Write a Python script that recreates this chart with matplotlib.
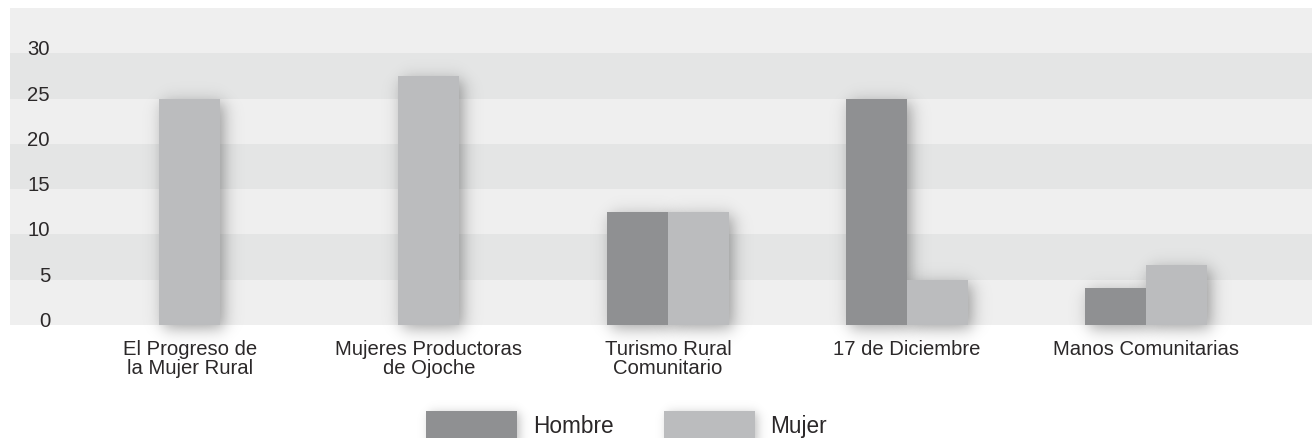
import numpy as np
import matplotlib
matplotlib.use("Agg")
import matplotlib.pyplot as plt
import matplotlib.transforms as mtrans
from matplotlib.patches import Rectangle

plt.rcParams['font.family'] = ['Liberation Sans', 'DejaVu Sans']

categories = ["El Progreso de\nla Mujer Rural", "Mujeres Productoras\nde Ojoche",
              "Turismo Rural\nComunitario", "17 de Diciembre", "Manos Comunitarias"]
series_names = ["Hombre", "Mujer"]
hombre = [0, 0, 12.5, 25, 4.1]
mujer = [25, 27.5, 12.5, 5, 6.6]
yticks = [0, 5, 10, 15, 20, 25, 30]

c_h = "#8f9092"
c_m = "#bbbcbe"
band_light = "#efefef"
band_dark = "#e4e5e5"
txt = "#2b2829"

W, H = 1312, 439
fig = plt.figure(figsize=(W / 100, H / 100), dpi=100)
ax = fig.add_axes([10 / W, (H - 326) / H, (W - 10) / W, (326 - 9) / H])
XL = (-0.753, 4.695)
YL = (0, 35)
ax.set_xlim(*XL)
ax.set_ylim(*YL)
ax.axis("off")

# background bands
for i, lo in enumerate(range(0, 35, 5)):
    ax.axhspan(lo, lo + 5, color=band_light if i % 2 == 0 else band_dark, zorder=0, lw=0)

fig.canvas.draw()
to_pix = ax.transData
to_data = ax.transData.inverted()


def sig(v, s):
    return 1.0 / (1.0 + np.exp(-v / s))


def shadow(px0, py0, px1, py1, dx=4, dy=-4, s=4.8, a=0.36, pad=34):
    gx = np.arange(px0 - pad, px1 + pad + 1)
    gy = np.arange(py0 - pad, py1 + pad + 1)
    X, Y = np.meshgrid(gx, gy)
    fx = sig(X - (px0 + dx), s) * sig((px1 + dx) - X, s)
    fy = sig(Y - (py0 + dy), s) * sig((py1 + dy) - Y, s)
    alpha = a * fx * fy
    img = np.zeros(alpha.shape + (4,))
    img[..., 3] = alpha
    (dx0, dy0) = to_data.transform((gx[0], gy[0]))
    (dx1, dy1) = to_data.transform((gx[-1], gy[-1]))
    ax.imshow(img[::-1], extent=(dx0, dx1, dy0, dy1), aspect="auto",
              interpolation="bilinear", zorder=1, clip_on=False)


bw = 0.255
x = np.arange(len(categories))
bars = []
for i in range(len(categories)):
    vals = [hombre[i], mujer[i]]
    present = [k for k in range(2) if vals[k] > 0]
    n = len(present)
    for j, k in enumerate(present):
        left = x[i] - n * bw / 2 + j * bw
        bars.append((left, vals[k], [c_h, c_m][k]))

for left, v, col in bars:
    (p0x, p0y) = to_pix.transform((left, 0))
    (p1x, p1y) = to_pix.transform((left + bw, v))
    shadow(p0x, p0y, p1x, p1y)
for left, v, col in bars:
    ax.bar(left, v, width=bw, align="edge", color=col, lw=0, zorder=3)

ax.set_xlim(*XL)
ax.set_ylim(*YL)

# y tick labels inside the plot area
blend = mtrans.blended_transform_factory(fig.transFigure, ax.transData)
off = mtrans.offset_copy(blend, fig=fig, x=0, y=-1, units="dots")
for t in yticks:
    ax.text(50 / W, t, str(t), transform=off, ha="right", va="baseline",
            fontsize=14.6, color=txt, zorder=5)

# category labels
for i, c in enumerate(categories):
    ax.text(x[i], -1.6, c, ha="center", va="top", fontsize=14.6, color=txt,
            linespacing=1.0, zorder=5, clip_on=False)

# legend (pixel positions measured from top-left)
leg = [(426, 517, 533), (664, 755, 770)]
for (l0, l1, tx), name, col in zip(leg, series_names, [c_h, c_m]):
    top = H - 412
    bot = H - 445
    shadow(l0, bot, l1, top, dx=3, dy=-2, s=3.0, a=0.25)
    (d0x, d0y) = to_data.transform((l0, bot))
    (d1x, d1y) = to_data.transform((l1, top))
    ax.add_patch(Rectangle((d0x, d0y), d1x - d0x, d1y - d0y, color=col, lw=0,
                           zorder=4, clip_on=False))
    (tdx, tdy) = to_data.transform((tx, H - 433))
    ax.text(tdx, tdy, name, ha="left", va="baseline", fontsize=16.3, color=txt,
            clip_on=False, zorder=5)

ax.set_xlim(*XL)
ax.set_ylim(*YL)
fig.savefig("out.png", dpi=100, facecolor="white")
